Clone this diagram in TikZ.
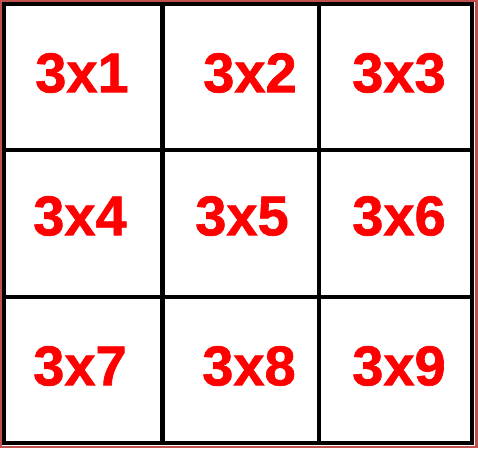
\documentclass[tikz,border=0pt]{standalone}
\usepackage{fontspec}
\setmainfont{Liberation Sans}
\newfontfamily\labfont[FakeBold=1.2]{Liberation Sans Bold}
\definecolor{frame}{RGB}{192,80,77}
\definecolor{labred}{RGB}{255,0,0}
\begin{document}
\begin{tikzpicture}[x=1pt,y=-1pt,
  gridline/.style={draw=black,line width=4.5pt},
  lab/.style={text=labred,font=\labfont\fontsize{56}{60}\selectfont,inner sep=0pt,anchor=center}]
\useasboundingbox (0,0) rectangle (478,448);
\fill[frame] (0,0) rectangle (478,448);
\fill[white] (2,2) rectangle (475,446);
% grid
\draw[gridline] (4.2,4.2) rectangle (472.2,443);
\draw[gridline] (162.5,4) -- (162.5,443);
\draw[gridline] (319,4) -- (319,443);
\draw[gridline] (4,150) -- (472,150);
\draw[gridline] (4,297) -- (472,297);
% labels
\node[lab] (c1) at (82,73) {3x1};
\node[lab] (c2) at (250,73) {3x2};
\node[lab] (c3) at (399,73) {3x3};
\node[lab] (c4) at (80,216) {3x4};
\node[lab] (c5) at (242,216) {3x5};
\node[lab] (c6) at (399,216) {3x6};
\node[lab] (c7) at (80,366) {3x7};
\node[lab] (c8) at (249,366) {3x8};
\node[lab] (c9) at (399,366) {3x9};
\end{tikzpicture}
\end{document}
